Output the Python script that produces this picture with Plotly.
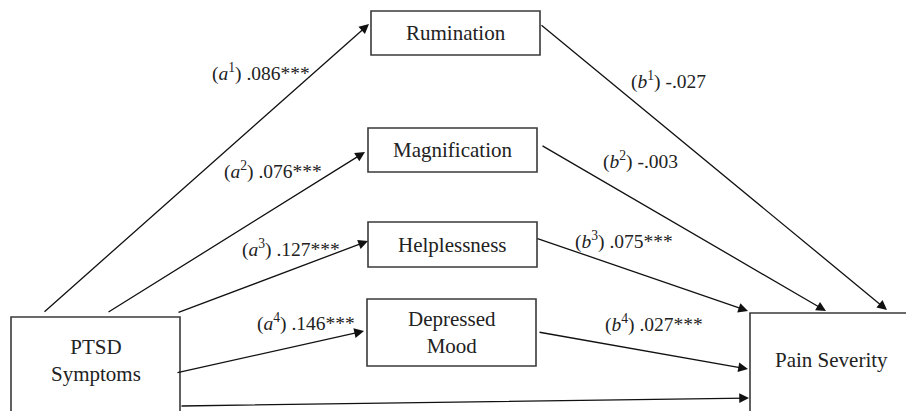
import plotly.graph_objects as go

# ---- data ----
mediators = ["Rumination", "Magnification", "Helplessness", "Depressed<br>Mood"]
a_paths = ["1", "2", "3", "4"]
a_values = [".086***", ".076***", ".127***", ".146***"]
b_paths = ["1", "2", "3", "4"]
b_values = ["-.027", "-.003", ".075***", ".027***"]
predictor = "PTSD<br>Symptoms"
outcome = "Pain Severity"

# ---- layout geometry (pixel space) ----
W, H = 906, 411
med_boxes = [(371, 11, 540, 55), (368, 128, 537, 172), (368, 222, 537, 267), (367, 299, 536, 366)]
pred_box = (11, 317, 180, 420)
out_box = (750, 313, 910, 420)

a_tails = [(43, 313), (107, 313), (177, 313), (176, 373)]
a_heads = [(369, 24), (365, 152), (368, 241), (364, 331)]
b_tails = [(540, 24), (541, 145), (536, 238), (538, 332)]
b_heads = [(887, 310), (826, 311), (748, 311), (748, 369)]
direct = ((180, 406), (749, 398))

a_label_pos = [(210, 72), (222, 170), (240, 248), (255, 322)]
b_label_pos = [(629, 80), (601, 160), (573, 240), (603, 323)]

FONT = "Liberation Serif, Times New Roman, DejaVu Serif, serif"
fig = go.Figure()

shapes = []
annotations = []

def box(b, text, cx=None, cy=None, size=21):
    x0, y0, x1, y1 = b
    shapes.append(dict(type="rect", xref="x", yref="y", x0=x0, y0=y0, x1=x1, y1=y1,
                       line=dict(color="#3a3a3a", width=1.6), fillcolor="white", layer="below"))
    annotations.append(dict(x=cx if cx is not None else (x0 + x1) / 2,
                            y=cy if cy is not None else (y0 + y1) / 2,
                            xref="x", yref="y", text=text, showarrow=False,
                            font=dict(family=FONT, size=size, color="#222")))

for b, name in zip(med_boxes, mediators):
    box(b, name)
box(pred_box, predictor, cx=96, cy=360)
box(out_box, outcome, cx=831, cy=360)

def arrow(tail, head):
    annotations.append(dict(x=head[0], y=head[1], ax=tail[0], ay=tail[1],
                            xref="x", yref="y", axref="x", ayref="y", text="",
                            showarrow=True, arrowhead=2, arrowsize=1.5, arrowwidth=1.3,
                            arrowcolor="#111", standoff=0, startstandoff=0))

for t, h in zip(a_tails, a_heads):
    arrow(t, h)
for t, h in zip(b_tails, b_heads):
    arrow(t, h)
arrow(*direct)

for (x, y), p, v in zip(a_label_pos, a_paths, a_values):
    annotations.append(dict(x=x, y=y, xref="x", yref="y", xanchor="left", yanchor="middle",
                            text=f"(<i>a</i><sup>{p}</sup>) {v}", showarrow=False,
                            font=dict(family=FONT, size=19.5, color="#222")))
for (x, y), p, v in zip(b_label_pos, b_paths, b_values):
    annotations.append(dict(x=x, y=y, xref="x", yref="y", xanchor="left", yanchor="middle",
                            text=f"(<i>b</i><sup>{p}</sup>) {v}", showarrow=False,
                            font=dict(family=FONT, size=19.5, color="#222")))

fig.update_layout(
    width=W, height=H, margin=dict(l=0, r=0, t=0, b=0),
    paper_bgcolor="white", plot_bgcolor="white",
    font=dict(family=FONT),
    xaxis=dict(range=[0, W], visible=False, fixedrange=True),
    yaxis=dict(range=[H, 0], visible=False, fixedrange=True),
    shapes=shapes, annotations=annotations, showlegend=False,
)
fig.write_html("out.html", config={"displayModeBar": False},
               post_script="document.body.style.margin='0';document.body.style.overflow='hidden';")
